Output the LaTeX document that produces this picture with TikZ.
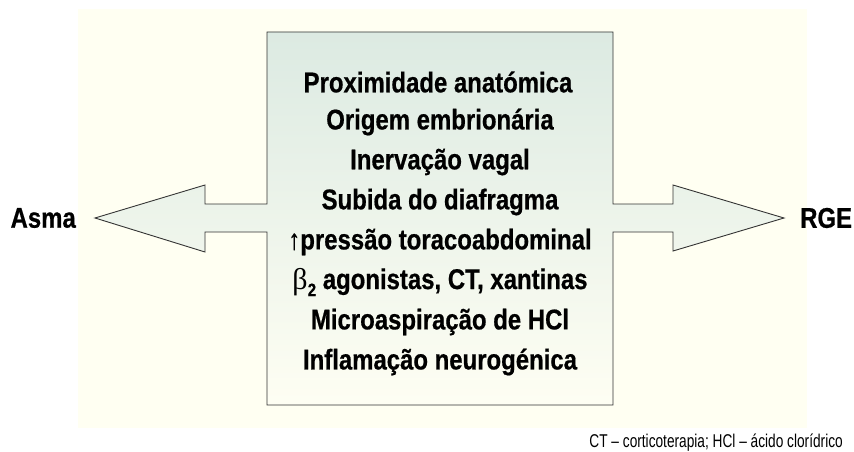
\documentclass[tikz,border=0pt]{standalone}
\usepackage{fontspec}
\setmainfont{Liberation Sans}[FakeStretch=0.84, BoldFeatures={FakeBold=0.6}]
\newfontfamily\notefont{Liberation Sans}[FakeStretch=0.74]
\newfontfamily\greekfont{Liberation Serif}
\definecolor{cream}{HTML}{FFFFF2}
\definecolor{mint}{HTML}{DCEAE2}
\definecolor{mintlow}{HTML}{FEFEF3}
\definecolor{edge}{HTML}{333333}
\tikzset{
  item/.style={font=\fontsize{28.5}{32}\selectfont\bfseries, text=black, inner sep=0pt, anchor=center},
  side/.style={font=\fontsize{28.5}{32}\selectfont\bfseries, text=black, inner sep=0pt},
  note/.style={font=\fontsize{18.5}{21}\selectfont\notefont, text=black, inner sep=0pt},
  frame/.style={draw=edge, line width=0.9pt, top color=mint, bottom color=mintlow, line join=miter}
}
\begin{document}
\begin{tikzpicture}[x=1pt,y=-1pt]
\useasboundingbox (0,0) rectangle (854,452);
\fill[white] (0,0) rectangle (854,452);
\fill[cream] (78,9) rectangle (807,428);
% double arrow with central box as one outline
\path[frame] (267,32) -- (613,32) -- (613,204) -- (673,204) -- (673,185) -- (784,218)
  -- (673,251) -- (673,232) -- (613,232) -- (613,405) -- (267,405) -- (267,232)
  -- (205,232) -- (205,252) -- (95,218) -- (205,185) -- (205,204) -- (267,204) -- cycle;
\coordinate (lefttip) at (95,218);
\coordinate (righttip) at (784,218);
\node[item] (l1) at (438,82) {Proximidade anatómica};
\node[item] (l2) at (440,122) {Origem embrionária};
\node[item] (l3) at (440,162) {Inervação vagal};
\node[item] (l4) at (440,202) {Subida do diafragma};
\node[item] (l5) at (440,242) {↑pressão toracoabdominal};
\node[item] (l6) at (440,282) {{\normalfont\greekfont\fontsize{30}{32}\selectfont β}\raisebox{-0.25em}{\fontsize{18}{20}\selectfont 2} agonistas, CT, xantinas};
\node[item] (l7) at (440,322) {Microaspiração de HCl};
\node[item] (l8) at (440,362) {Inflamação neurogénica};
\node[side, anchor=east] (asma) at ([xshift=-19pt]lefttip) {Asma};
\node[side, anchor=west] (rge) at ([xshift=16pt]righttip) {RGE};
\node[note, anchor=east] (nota) at (843,443) {CT – corticoterapia; HCl – ácido clorídrico};
\end{tikzpicture}
\end{document}
